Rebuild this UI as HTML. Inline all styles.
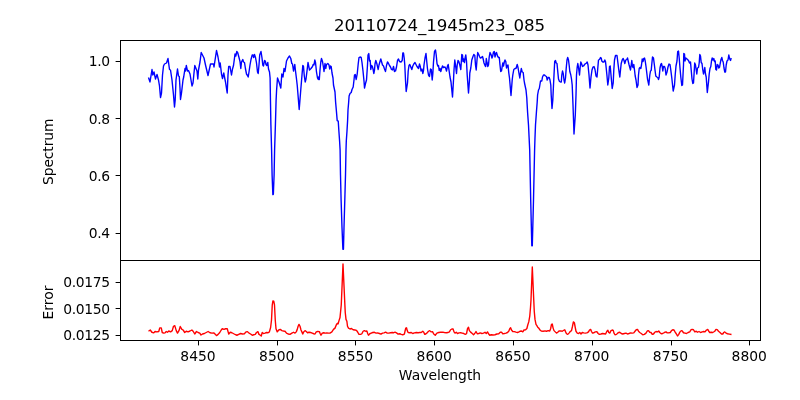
<!DOCTYPE html>
<html><head><meta charset="utf-8"><title>20110724_1945m23_085</title>
<style>html,body{margin:0;padding:0;background:#fff;}svg{display:block;}text{font-family:"DejaVu Sans","Liberation Sans",sans-serif;fill:#000;}</style></head><body>
<svg width="800" height="400" viewBox="0 0 800 400">
<rect width="800" height="400" fill="#fff"/>
<clipPath id="c1"><rect x="120" y="40" width="640" height="220"/></clipPath>
<clipPath id="c2"><rect x="120" y="260" width="640" height="80"/></clipPath>
<path clip-path="url(#c1)" d="M148.50 77.50 L150.00 82.00 L152.00 69.50 L152.80 75.00 L154.00 72.00 L155.50 79.00 L157.00 74.50 L158.50 80.00 L159.50 86.00 L160.50 97.50 L161.50 93.00 L162.50 75.00 L163.50 66.00 L164.50 64.00 L166.50 63.00 L168.00 58.50 L169.50 69.50 L170.50 70.00 L172.00 80.00 L173.50 95.00 L174.50 107.00 L175.20 100.00 L176.00 80.00 L177.50 69.00 L178.50 76.00 L179.30 76.50 L180.00 88.00 L180.50 99.50 L181.50 93.00 L183.00 80.00 L183.70 77.00 L185.00 68.50 L185.50 71.00 L186.30 65.50 L187.50 71.00 L188.50 70.50 L190.00 74.00 L191.00 80.00 L192.00 86.00 L193.00 83.00 L194.00 73.00 L194.80 65.50 L196.00 68.50 L197.00 71.00 L197.80 79.00 L198.50 70.00 L200.00 62.00 L201.20 52.50 L204.00 58.00 L205.50 65.00 L208.00 75.50 L210.50 64.00 L213.50 64.00 L214.00 67.00 L216.50 50.50 L218.00 57.00 L219.00 63.00 L219.50 67.00 L220.20 63.00 L220.80 68.00 L221.50 74.00 L222.50 78.50 L223.80 73.00 L224.50 77.00 L225.50 82.00 L227.20 93.00 L228.00 75.00 L228.70 66.50 L230.00 66.50 L230.80 71.00 L231.50 75.00 L232.50 69.00 L233.50 65.50 L234.50 58.00 L235.00 54.00 L235.80 56.00 L236.80 51.50 L237.80 53.00 L239.00 57.50 L240.00 61.50 L240.80 68.50 L241.50 62.00 L242.80 59.50 L243.50 62.00 L244.50 62.50 L245.50 69.00 L246.50 74.00 L247.50 75.50 L248.20 77.00 L249.00 72.00 L250.00 65.00 L251.00 59.50 L252.20 55.00 L253.00 55.00 L253.70 57.50 L254.50 54.50 L255.50 57.50 L256.50 63.00 L257.50 72.00 L258.20 73.50 L259.00 65.00 L259.70 55.00 L261.00 51.50 L262.00 58.00 L262.80 65.00 L263.50 66.00 L264.50 60.50 L265.30 61.00 L266.00 64.50 L266.80 65.50 L267.80 62.50 L268.50 69.00 L269.50 72.00 L270.10 78.00 L270.30 90.00 L270.45 100.00 L270.90 125.00 L271.60 150.00 L272.10 175.00 L272.85 194.60 L273.35 194.30 L274.10 175.00 L274.60 150.00 L275.40 125.00 L276.10 100.00 L276.60 90.00 L277.50 78.00 L279.00 82.00 L280.80 88.00 L281.80 74.00 L283.00 77.00 L284.00 68.50 L285.00 71.50 L286.50 61.00 L288.00 58.00 L289.50 56.00 L290.80 58.50 L291.80 63.50 L292.50 64.00 L293.50 71.00 L294.80 64.50 L295.50 71.00 L296.50 79.00 L297.20 85.00 L299.20 109.50 L301.00 87.00 L302.00 75.00 L302.80 65.50 L303.50 66.50 L304.30 76.00 L305.20 82.00 L306.00 79.00 L307.00 71.00 L308.00 62.50 L308.80 66.50 L309.50 70.00 L311.00 68.50 L312.50 66.50 L313.20 64.50 L314.00 65.00 L314.80 60.00 L315.50 62.50 L316.50 72.00 L317.50 78.00 L318.30 79.50 L318.70 77.00 L319.30 79.50 L320.00 70.00 L320.80 62.00 L321.50 58.50 L322.50 61.50 L323.50 67.50 L324.00 71.50 L325.00 63.50 L325.80 68.50 L326.50 64.50 L327.80 63.50 L329.00 65.00 L329.70 69.00 L330.50 66.00 L331.20 66.50 L332.00 73.00 L333.00 78.00 L333.50 85.00 L335.00 92.00 L335.60 102.00 L336.40 111.00 L337.20 120.60 L338.25 121.20 L338.90 131.25 L339.60 141.25 L340.10 150.00 L340.50 175.00 L341.10 200.00 L342.00 227.50 L342.90 249.20 L343.45 249.20 L344.00 227.50 L344.80 200.00 L345.50 175.00 L346.00 150.00 L346.30 141.00 L347.00 131.00 L347.60 120.60 L348.00 110.00 L348.60 103.00 L349.10 96.00 L350.00 93.50 L351.20 92.50 L352.00 89.50 L353.20 87.00 L354.00 80.00 L354.50 75.00 L355.20 74.50 L356.20 79.50 L357.20 74.00 L358.20 64.00 L359.00 57.50 L360.00 57.00 L361.20 57.50 L362.00 62.50 L363.00 71.00 L364.00 81.00 L364.50 88.00 L365.50 83.50 L366.50 80.00 L367.50 65.00 L368.00 55.00 L368.80 53.50 L369.50 61.00 L370.20 60.50 L370.80 69.50 L371.50 65.50 L372.20 66.00 L373.00 69.00 L373.80 73.50 L374.50 70.00 L375.00 64.00 L375.80 60.50 L376.80 63.50 L377.50 66.50 L378.20 69.50 L379.00 65.00 L380.00 61.50 L380.80 59.00 L381.50 61.50 L382.50 65.00 L383.50 66.00 L384.50 69.00 L385.50 71.50 L386.50 65.50 L387.50 62.00 L388.50 63.50 L389.50 65.50 L390.50 67.00 L391.50 69.50 L392.50 70.00 L393.50 66.50 L394.50 71.50 L395.50 71.00 L396.50 67.00 L397.50 60.50 L398.50 59.00 L399.50 61.50 L401.00 62.00 L402.20 60.50 L402.80 53.00 L403.50 53.00 L404.20 58.00 L404.80 65.00 L405.50 80.00 L406.20 91.50 L407.50 83.00 L408.20 71.00 L409.00 65.50 L409.80 64.50 L410.80 67.00 L411.80 69.50 L412.80 66.00 L413.80 64.00 L415.00 62.50 L416.00 64.50 L417.00 66.50 L418.50 68.50 L419.50 64.00 L420.30 66.50 L421.00 71.00 L422.00 69.00 L422.80 73.50 L423.50 70.50 L424.00 65.00 L425.00 58.00 L426.00 53.50 L426.80 62.00 L427.50 69.00 L428.50 75.00 L429.50 76.50 L430.50 69.00 L431.30 69.50 L432.20 80.00 L432.80 74.00 L433.50 62.00 L434.50 51.50 L435.50 50.00 L436.20 55.00 L437.00 63.50 L437.80 66.00 L438.50 65.50 L439.20 70.50 L440.00 68.50 L440.80 71.50 L441.50 69.00 L442.50 66.00 L443.50 67.50 L445.00 67.00 L445.80 68.50 L446.50 71.00 L447.50 66.00 L448.20 64.50 L449.00 70.00 L450.00 77.00 L451.00 82.00 L452.50 97.00 L453.50 80.00 L454.00 70.00 L454.80 60.00 L455.50 65.00 L456.50 73.50 L457.20 65.00 L458.00 60.50 L458.80 61.50 L459.80 65.00 L460.80 69.50 L461.30 62.00 L461.80 54.50 L462.50 55.00 L463.00 61.50 L463.70 59.00 L464.50 62.50 L465.20 57.50 L465.80 55.00 L466.50 61.00 L467.20 75.00 L468.50 93.00 L469.50 80.00 L469.80 73.00 L470.80 68.00 L471.80 60.00 L472.80 57.00 L473.80 54.50 L474.80 55.50 L475.50 65.00 L476.20 70.00 L477.00 60.00 L477.70 52.50 L478.50 54.00 L479.50 56.50 L480.30 58.00 L481.50 57.50 L482.50 56.50 L483.20 59.00 L484.00 63.00 L485.00 65.50 L485.70 66.50 L486.30 58.50 L487.00 62.50 L487.80 66.50 L488.50 65.00 L489.20 57.00 L490.00 52.50 L491.00 54.50 L492.00 58.00 L492.70 56.00 L493.50 52.00 L494.30 51.50 L495.00 57.00 L495.80 53.50 L496.50 52.50 L497.50 56.00 L498.50 57.50 L499.30 57.50 L500.00 65.00 L500.70 71.50 L501.50 71.00 L502.20 66.50 L502.80 63.00 L503.50 66.00 L504.30 62.00 L505.00 60.00 L505.80 61.50 L506.50 68.00 L507.20 66.00 L508.00 65.00 L508.80 73.00 L509.50 78.00 L511.00 95.50 L512.20 80.00 L512.80 75.00 L513.80 69.50 L515.00 68.50 L516.00 68.50 L517.20 64.50 L518.00 67.50 L519.00 73.50 L519.80 78.00 L520.50 73.00 L521.30 68.50 L522.20 72.00 L523.20 72.50 L524.00 80.00 L524.50 83.00 L526.00 90.00 L526.80 98.00 L527.05 103.00 L527.60 112.50 L528.50 125.00 L529.10 137.50 L529.70 150.00 L530.70 200.00 L531.80 245.80 L532.30 245.80 L533.50 200.00 L534.60 150.00 L535.00 137.50 L535.50 125.00 L536.40 112.50 L537.20 102.00 L537.60 95.00 L538.50 90.00 L539.30 88.50 L540.50 81.00 L541.80 81.00 L542.50 77.00 L543.50 75.00 L544.50 75.00 L545.50 76.00 L546.50 76.50 L547.20 80.00 L548.20 77.50 L549.20 77.50 L550.00 80.00 L550.80 85.00 L551.20 95.00 L552.00 108.50 L552.80 100.00 L553.50 85.00 L554.00 75.00 L554.70 61.50 L555.50 60.50 L556.20 63.00 L557.00 63.50 L557.80 72.00 L558.50 79.00 L559.50 81.50 L560.50 82.00 L561.30 82.00 L561.80 75.00 L562.50 71.00 L563.30 74.00 L564.00 80.00 L564.70 83.00 L565.50 78.00 L566.20 68.50 L567.00 60.00 L567.70 57.50 L568.50 60.00 L569.20 65.50 L569.80 71.50 L570.70 74.50 L571.50 79.00 L572.20 85.00 L573.00 105.00 L574.00 134.00 L575.30 115.00 L576.00 95.00 L576.50 75.00 L577.20 67.00 L577.80 63.50 L578.50 67.50 L579.50 75.00 L580.20 67.00 L580.80 62.00 L581.50 63.50 L582.50 66.50 L583.50 66.00 L585.00 64.00 L586.50 63.00 L587.20 62.00 L588.00 65.00 L589.00 75.00 L590.00 88.00 L591.00 77.00 L592.00 70.00 L593.00 67.00 L594.00 66.50 L595.00 69.50 L596.00 76.00 L597.00 77.00 L597.80 68.00 L598.50 60.00 L599.50 59.50 L600.50 57.50 L601.20 58.00 L601.80 61.00 L602.80 62.00 L604.00 62.00 L604.80 60.00 L605.50 61.50 L606.20 68.00 L607.00 76.00 L607.80 85.00 L608.80 78.00 L609.50 66.50 L610.20 66.00 L611.00 75.00 L612.20 88.50 L613.20 83.00 L613.80 70.00 L614.50 60.00 L615.50 55.50 L617.00 55.50 L617.80 62.00 L618.80 70.00 L619.80 77.00 L620.50 70.00 L621.20 63.50 L622.20 60.00 L623.20 58.50 L624.00 60.50 L624.80 63.50 L625.80 60.00 L626.80 59.50 L627.50 58.00 L628.20 61.00 L629.00 64.50 L629.80 67.50 L630.50 70.00 L631.20 65.00 L631.80 60.50 L632.50 66.50 L633.20 67.50 L633.80 64.50 L634.50 70.00 L635.20 76.00 L636.00 80.00 L637.00 87.50 L638.00 85.00 L638.50 75.00 L639.20 68.50 L640.00 67.50 L640.80 68.50 L641.50 65.00 L642.20 59.00 L643.00 61.50 L643.70 58.50 L644.50 58.00 L645.20 61.00 L646.00 66.50 L646.80 73.00 L647.50 79.00 L648.80 85.00 L649.80 75.00 L650.50 71.00 L651.20 70.50 L651.80 64.00 L652.50 57.00 L653.50 58.00 L654.20 63.50 L655.00 70.00 L655.80 76.00 L656.80 77.00 L657.80 77.50 L658.50 79.50 L659.20 77.00 L660.00 68.00 L660.80 64.50 L661.50 63.50 L662.20 66.50 L662.80 71.00 L663.50 66.50 L664.50 66.50 L665.20 68.50 L666.00 75.00 L667.00 72.00 L668.00 67.00 L669.00 64.00 L670.00 64.50 L670.80 70.00 L671.80 78.00 L673.20 91.00 L674.50 85.00 L675.20 75.00 L676.00 66.00 L677.00 61.00 L677.70 51.50 L678.50 51.00 L679.20 58.00 L680.00 68.00 L680.80 77.00 L681.80 85.50 L682.50 85.00 L683.00 75.00 L683.50 65.00 L683.80 53.50 L684.50 54.00 L685.00 61.00 L685.80 58.00 L687.00 59.00 L688.50 60.50 L689.50 63.00 L690.50 62.00 L691.20 70.00 L692.00 79.00 L692.80 83.50 L693.50 83.00 L694.00 75.00 L694.70 63.00 L695.50 65.00 L696.20 70.00 L696.80 74.00 L697.50 68.00 L698.50 67.50 L699.20 63.00 L699.80 54.50 L700.50 56.00 L701.20 62.50 L702.00 63.50 L702.80 70.00 L703.50 74.00 L704.20 71.00 L704.80 67.50 L705.50 74.00 L706.20 77.00 L707.30 92.50 L708.50 82.00 L709.20 74.00 L710.00 68.50 L710.80 66.50 L711.50 61.00 L712.20 58.00 L713.00 60.00 L713.80 58.50 L714.50 61.50 L715.20 61.00 L715.80 69.50 L716.50 70.00 L717.20 64.50 L718.00 65.00 L718.80 68.00 L719.50 67.50 L720.20 63.50 L721.00 59.50 L721.80 57.50 L722.50 60.50 L723.20 62.00 L724.00 68.00 L724.80 72.00 L725.50 72.00 L726.20 65.00 L727.00 61.00 L728.00 60.00 L728.80 55.00 L729.50 58.50 L730.50 60.50 L731.20 58.00" fill="none" stroke="#0000ff" stroke-width="1.39" stroke-linejoin="round" stroke-linecap="butt"/>
<path clip-path="url(#c2)" d="M148.50 331.25 L150.25 330.00 L151.88 332.25 L153.75 332.88 L155.00 331.50 L156.88 331.88 L158.75 331.50 L159.75 327.88 L161.25 327.88 L162.25 332.50 L163.75 333.12 L165.00 332.88 L166.25 331.50 L167.50 332.25 L168.75 331.00 L170.62 331.88 L172.25 330.62 L173.50 326.25 L174.75 325.62 L176.25 330.62 L177.50 333.12 L179.00 330.62 L180.25 326.50 L181.88 329.38 L183.12 330.00 L184.75 332.50 L186.25 331.25 L188.12 331.88 L190.00 331.00 L191.88 330.00 L193.12 331.25 L194.75 334.00 L196.50 331.50 L198.12 332.50 L199.75 333.12 L201.00 335.00 L202.50 334.00 L204.38 333.50 L206.25 332.50 L208.12 331.50 L210.00 332.75 L211.88 333.12 L213.75 332.88 L215.00 334.00 L216.50 335.62 L218.12 334.38 L219.75 332.50 L221.25 330.00 L222.25 328.75 L224.00 329.38 L225.62 328.75 L227.25 328.75 L228.12 331.88 L228.75 334.00 L230.25 332.25 L231.88 332.75 L233.75 333.75 L235.00 334.38 L236.88 335.25 L238.75 334.38 L240.62 333.50 L242.50 334.00 L244.38 333.75 L246.00 331.88 L247.50 331.62 L249.00 333.12 L250.62 334.00 L252.25 335.25 L253.75 334.75 L255.25 334.38 L256.50 332.50 L257.88 331.62 L259.00 334.38 L260.00 335.00 L261.25 336.00 L262.25 332.50 L263.50 333.50 L265.00 333.12 L266.50 332.50 L268.12 332.75 L269.38 331.88 L270.62 327.50 L271.50 320.00 L272.25 305.00 L272.88 301.00 L273.75 301.25 L274.50 305.00 L275.25 320.00 L276.00 328.75 L277.25 331.88 L278.75 330.00 L280.25 329.38 L281.88 330.62 L283.50 331.00 L285.00 331.25 L286.50 333.12 L288.12 334.00 L290.00 334.38 L291.88 333.12 L293.50 332.25 L295.00 333.12 L296.25 331.88 L297.25 329.38 L298.12 326.25 L299.00 324.38 L300.00 326.25 L301.00 330.00 L301.88 331.88 L302.75 334.00 L303.75 331.88 L305.00 330.62 L306.25 331.50 L307.50 332.75 L309.00 332.25 L310.62 332.50 L312.25 333.12 L313.75 333.75 L315.00 334.00 L316.25 331.88 L317.75 331.50 L319.38 331.62 L320.25 333.75 L321.00 335.25 L322.25 333.12 L323.75 332.75 L325.25 333.12 L326.88 332.88 L328.50 333.12 L330.00 333.12 L331.88 331.88 L333.50 329.38 L335.00 328.12 L336.25 325.00 L337.25 323.50 L338.12 323.75 L339.00 320.62 L340.00 317.50 L340.75 310.00 L341.25 305.00 L343.00 264.00 L344.88 305.00 L345.25 312.50 L346.00 319.38 L346.88 321.25 L347.50 326.25 L348.50 328.12 L350.00 329.00 L351.50 328.50 L353.12 329.75 L355.00 330.00 L356.50 330.38 L357.75 332.25 L359.00 334.38 L360.62 334.38 L361.88 333.75 L363.12 331.25 L364.38 330.62 L365.62 331.25 L366.88 331.00 L367.75 333.75 L368.50 335.25 L369.75 333.75 L371.25 333.12 L372.75 332.50 L374.38 332.25 L376.00 333.12 L377.50 332.88 L379.38 333.50 L381.00 334.12 L382.50 333.12 L384.00 332.88 L385.62 332.12 L387.25 333.12 L388.75 333.12 L390.62 332.75 L392.25 332.50 L393.75 332.75 L395.00 332.12 L396.50 332.88 L398.12 334.12 L399.75 333.75 L401.25 334.38 L402.75 334.75 L404.38 334.12 L405.00 331.25 L405.75 328.12 L406.50 327.75 L407.25 330.62 L408.12 332.50 L409.75 332.75 L411.25 332.50 L412.75 333.50 L414.38 332.88 L416.25 332.50 L418.12 332.75 L419.75 332.50 L421.25 332.50 L422.75 331.25 L423.75 332.25 L424.75 334.38 L425.00 334.38 L426.88 333.12 L428.50 331.25 L429.75 330.62 L431.00 331.88 L432.50 331.62 L433.75 334.00 L435.25 335.25 L436.88 333.12 L438.75 332.50 L440.62 332.25 L442.50 332.12 L444.38 332.50 L446.25 332.75 L448.12 332.50 L449.38 331.88 L450.62 329.75 L451.88 329.00 L453.12 329.00 L454.00 331.88 L455.00 333.12 L456.25 332.25 L457.50 333.50 L459.00 332.88 L460.62 332.75 L462.25 333.12 L463.75 333.50 L465.25 334.38 L466.50 333.75 L467.50 328.75 L468.50 327.25 L469.38 330.62 L470.62 332.12 L471.88 333.12 L473.50 334.75 L474.75 333.50 L476.00 331.50 L477.25 333.75 L478.75 333.50 L480.25 332.88 L481.88 333.50 L483.50 333.12 L485.00 332.25 L486.25 333.50 L487.50 331.88 L488.50 333.75 L489.75 335.25 L491.25 334.75 L493.12 335.00 L495.00 334.75 L496.88 334.00 L498.75 333.75 L500.25 332.25 L501.50 332.12 L502.75 333.75 L504.38 333.50 L506.00 333.12 L507.50 332.50 L508.75 331.25 L509.75 328.75 L510.62 327.75 L511.50 330.00 L512.75 331.50 L514.38 331.62 L516.00 332.12 L517.50 332.50 L519.00 331.88 L520.00 331.25 L521.50 331.00 L522.75 331.88 L524.00 330.00 L525.62 329.75 L526.88 328.50 L527.75 325.00 L528.75 321.88 L529.75 316.25 L530.50 307.50 L531.00 300.00 L532.30 267.00 L533.75 300.00 L534.25 311.25 L535.00 319.38 L536.00 324.38 L536.88 325.62 L537.75 327.25 L538.75 328.12 L540.00 330.00 L541.25 331.00 L543.12 331.25 L545.00 330.88 L546.50 331.25 L548.12 330.62 L549.75 331.00 L550.62 328.75 L551.50 324.38 L552.25 324.00 L553.12 328.12 L554.00 330.62 L555.25 331.88 L556.50 333.12 L557.75 332.25 L559.00 331.00 L560.62 330.88 L562.25 331.25 L563.75 330.25 L564.75 329.75 L565.62 331.88 L566.50 333.75 L567.75 334.38 L569.00 333.12 L570.25 331.50 L571.50 330.62 L572.50 326.25 L573.38 321.88 L574.38 322.75 L575.25 327.50 L576.00 331.25 L577.25 333.12 L578.50 333.50 L579.75 332.50 L581.00 334.00 L582.25 332.50 L583.75 332.88 L585.25 333.12 L586.88 332.88 L588.50 331.88 L589.50 330.00 L590.62 329.38 L591.50 331.50 L592.50 333.12 L594.00 332.75 L595.25 331.88 L596.88 331.62 L598.12 333.50 L599.38 334.38 L601.00 334.00 L602.50 333.50 L604.00 333.75 L605.62 334.00 L606.88 331.25 L607.88 330.25 L608.75 332.50 L609.75 333.12 L611.00 330.62 L612.25 330.00 L613.25 330.38 L614.00 333.12 L615.00 334.75 L616.50 334.38 L618.12 332.75 L619.75 332.25 L621.25 333.50 L622.75 334.00 L624.38 333.50 L626.00 333.12 L627.50 334.00 L629.00 333.50 L630.62 332.88 L632.25 333.12 L633.75 332.88 L635.00 331.25 L636.25 329.75 L637.50 329.38 L638.50 331.25 L639.75 332.50 L641.25 333.50 L642.75 334.75 L644.38 334.38 L646.00 333.12 L647.25 331.00 L648.50 330.62 L649.75 332.25 L651.00 332.50 L652.25 334.38 L653.50 334.00 L654.75 332.25 L656.00 331.50 L657.50 331.88 L658.75 331.00 L659.75 332.50 L661.25 333.75 L662.75 333.50 L664.38 332.50 L666.00 331.88 L667.25 332.88 L668.75 332.75 L670.25 332.50 L671.50 330.62 L672.75 329.75 L674.00 330.00 L675.00 331.88 L676.25 333.75 L677.50 336.00 L678.75 334.38 L680.00 331.88 L681.25 330.62 L682.25 331.00 L683.50 332.75 L685.00 333.12 L686.50 333.50 L688.12 332.50 L689.75 331.88 L691.00 329.75 L692.25 329.38 L693.50 329.75 L694.75 331.88 L696.25 331.25 L697.50 332.25 L699.00 331.50 L700.62 332.50 L702.25 331.88 L703.75 331.50 L705.00 331.88 L706.50 330.00 L707.75 329.38 L708.75 331.25 L709.75 332.50 L711.25 332.25 L712.75 332.50 L714.38 331.50 L714.75 331.25 L716.00 329.38 L717.25 329.62 L718.50 331.25 L720.00 332.50 L721.50 334.00 L722.75 334.00 L723.75 332.50 L724.75 331.88 L726.00 333.12 L727.50 333.75 L729.38 334.12 L731.50 334.50" fill="none" stroke="#ff0000" stroke-width="1.39" stroke-linejoin="round" stroke-linecap="butt"/>
<g fill="#000" shape-rendering="crispEdges">
<rect x="120" y="40" width="641" height="1"/>
<rect x="120" y="260" width="641" height="1"/>
<rect x="120" y="340" width="641" height="1"/>
<rect x="120" y="40" width="1" height="301"/>
<rect x="760" y="40" width="1" height="301"/>
</g>
<g fill="#000">
<rect x="198" y="341" width="1" height="4.4"/>
<rect x="277" y="341" width="1" height="4.4"/>
<rect x="355" y="341" width="1" height="4.4"/>
<rect x="434" y="341" width="1" height="4.4"/>
<rect x="513" y="341" width="1" height="4.4"/>
<rect x="592" y="341" width="1" height="4.4"/>
<rect x="671" y="341" width="1" height="4.4"/>
<rect x="749" y="341" width="1" height="4.4"/>
<rect x="115.6" y="61" width="4.4" height="1"/>
<rect x="115.6" y="118" width="4.4" height="1"/>
<rect x="115.6" y="175" width="4.4" height="1"/>
<rect x="115.6" y="233" width="4.4" height="1"/>
<rect x="115.6" y="282" width="4.4" height="1"/>
<rect x="115.6" y="308" width="4.4" height="1"/>
<rect x="115.6" y="335" width="4.4" height="1"/>
</g>
<g font-size="13.89px">
<text x="198.00" y="361" text-anchor="middle">8450</text>
<text x="276.75" y="361" text-anchor="middle">8500</text>
<text x="355.50" y="361" text-anchor="middle">8550</text>
<text x="434.25" y="361" text-anchor="middle">8600</text>
<text x="513.00" y="361" text-anchor="middle">8650</text>
<text x="591.75" y="361" text-anchor="middle">8700</text>
<text x="670.50" y="361" text-anchor="middle">8750</text>
<text x="749.25" y="361" text-anchor="middle">8800</text>
<text x="109.9" y="65.90" text-anchor="end" letter-spacing="-0.3">1.0</text>
<text x="109.9" y="123.87" text-anchor="end" letter-spacing="-0.3">0.8</text>
<text x="109.9" y="181.03" text-anchor="end" letter-spacing="-0.3">0.6</text>
<text x="109.9" y="238.20" text-anchor="end" letter-spacing="-0.3">0.4</text>
<text x="109.9" y="287.45" text-anchor="end" letter-spacing="-0.3">0.0175</text>
<text x="109.9" y="313.80" text-anchor="end" letter-spacing="-0.3">0.0150</text>
<text x="109.9" y="340.20" text-anchor="end" letter-spacing="-0.3">0.0125</text>
<text x="440" y="379.5" text-anchor="middle">Wavelength</text>
<text transform="translate(53.4,151.8) rotate(-90)" text-anchor="middle" letter-spacing="-0.12">Spectrum</text>
<text transform="translate(53.4,302.5) rotate(-90)" text-anchor="middle">Error</text>
</g>
<text x="439.6" y="31.2" text-anchor="middle" font-size="16.67px" letter-spacing="-0.1">20110724_1945m23_085</text>
</svg></body></html>
